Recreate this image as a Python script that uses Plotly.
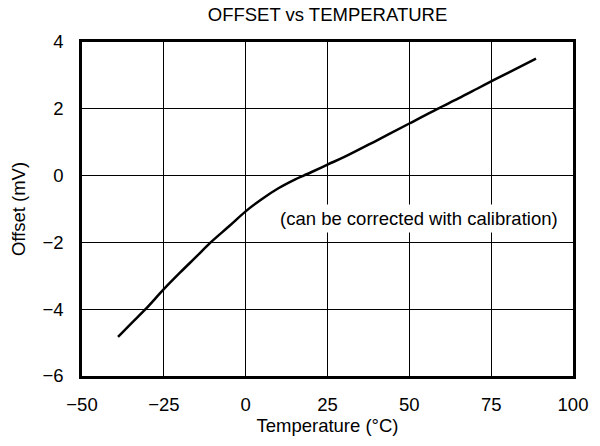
import plotly.graph_objects as go

# Data
temperature_c = [-39, -35, -30.6, -25, -20, -15, -10.7, -5, 0, 5, 10, 15, 17.7, 20, 25, 30, 40, 50, 58.6, 65, 70.7, 75, 80, 88.7]
offset_mv = [-4.83, -4.43, -4.0, -3.40, -2.90, -2.42, -2.0, -1.51, -1.07, -0.70, -0.38, -0.12, 0.0, 0.1, 0.33, 0.55, 1.05, 1.56, 2.0, 2.31, 2.6, 2.82, 3.07, 3.5]

x_tickvals = [-50, -25, 0, 25, 50, 75, 100]
x_ticktext = ["\u221250", "\u221225", "0", "25", "50", "75", "100"]
y_tickvals = [-6, -4, -2, 0, 2, 4]
y_ticktext = ["\u22126", "\u22124", "\u22122", "0", "2", "4"]

title_text = "OFFSET vs TEMPERATURE"
x_title = "Temperature (\u00b0C)"
y_title = "Offset (mV)"
note_text = "(can be corrected with calibration)"

FONT = "Liberation Sans, Arial, sans-serif"
FS = 18.5

fig = go.Figure()
fig.add_trace(go.Scatter(
    x=temperature_c, y=offset_mv, mode="lines",
    line=dict(color="black", width=2.5, shape="spline", smoothing=1.0),
    showlegend=False, hoverinfo="skip",
))

axis_common = dict(
    showline=True, linecolor="black", linewidth=2.5, mirror=True,
    showgrid=True, gridcolor="black", gridwidth=1,
    zeroline=False, ticks="", tickfont=dict(size=FS, color="black", family=FONT),
)

fig.update_xaxes(range=[-50, 100], tickvals=x_tickvals, ticktext=x_ticktext,
                 ticklabelstandoff=10,
                 title=dict(text=x_title, font=dict(size=FS, color="black", family=FONT), standoff=0),
                 **axis_common)
fig.update_yaxes(range=[-6, 4], tickvals=y_tickvals, ticktext=y_ticktext,
                 ticklabelstandoff=12,
                 title=dict(text=y_title, font=dict(size=FS, color="black", family=FONT), standoff=12),
                 **axis_common)

fig.add_annotation(x=53.0, y=-1.29, xref="x", yref="y", text=note_text, showarrow=False,
                   font=dict(size=FS, color="black", family=FONT), bgcolor="white", borderpad=3)

fig.update_layout(
    width=600, height=446,
    margin=dict(l=82, r=23, t=42, b=70),
    paper_bgcolor="white", plot_bgcolor="white",
    title=dict(text=title_text, x=0.5, xanchor="center", xref="paper", y=0.968, yanchor="middle",
               font=dict(size=FS, color="black", family=FONT)),
    font=dict(family=FONT, color="black"),
)

fig.write_html("out.html", config={"displayModeBar": False},
               post_script="document.body.style.margin='0';")
